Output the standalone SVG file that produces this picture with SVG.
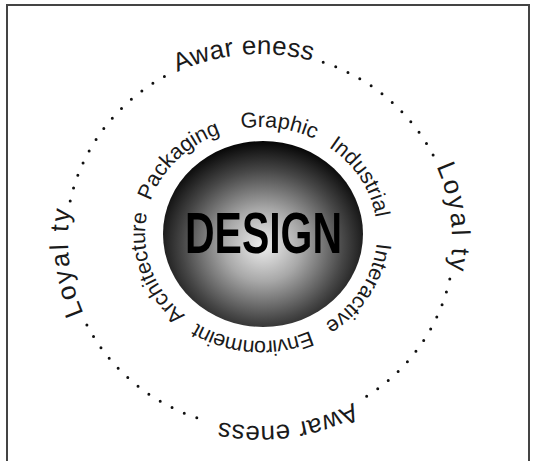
<svg xmlns="http://www.w3.org/2000/svg" width="534" height="461" viewBox="0 0 534 461">
<defs>
  <radialGradient id="sph" cx="0.5" cy="0.56" r="0.56">
    <stop offset="0" stop-color="#efefef"/>
    <stop offset="0.35" stop-color="#a8a8a8"/>
    <stop offset="0.72" stop-color="#474747"/>
    <stop offset="1" stop-color="#050505"/>
  </radialGradient>
  <path id="inner" d="M145,234 A116,107 0 1 1 377,234 A116,107 0 1 1 145,234 A116,107 0 1 1 377,234 A116,107 0 1 1 145,234"/>
  <path id="outer" d="M68,240 A192,186 0 1 1 452,240 A192,186 0 1 1 68,240 A192,186 0 1 1 452,240 A192,186 0 1 1 68,240"/>
</defs>
<style>
  .in { font-family: "Liberation Sans", Arial, sans-serif; font-size: 21.5px; fill: #1a1a1a; text-anchor: middle; }
  .out { font-family: "Liberation Sans", Arial, sans-serif; font-size: 26px; fill: #1a1a1a; text-anchor: middle; }
  .dots { fill: none; stroke: #111; stroke-width: 3; stroke-linecap: round; stroke-dasharray: 0 13.4; }
</style>
<rect width="534" height="461" fill="#fff"/>
<g id="frame" fill="none" stroke="#444" stroke-width="2">
  <path d="M7,470 V5 H529 V470"/>
</g>
<g id="sphere">
  <ellipse cx="263" cy="234" rx="100" ry="93" fill="url(#sph)"/>
  <text x="185" y="253" textLength="157" lengthAdjust="spacingAndGlyphs" font-family="'Liberation Sans Narrow', 'Liberation Sans', Arial, sans-serif" font-weight="bold" font-size="57" fill="#000">DESIGN</text>
</g>
<g id="inner-ring" class="in">
  <text><textPath href="#inner" startOffset="83.7">Packaging</textPath></text>
  <text><textPath href="#inner" startOffset="192.8">Graphic</textPath></text>
  <text><textPath href="#inner" startOffset="290.1">Industrial</textPath></text>
  <text><textPath href="#inner" startOffset="408.9">Interactive</textPath></text>
  <text><textPath href="#inner" startOffset="533.5" textLength="118" lengthAdjust="spacing">Environmeint</textPath></text>
  <text><textPath href="#inner" startOffset="663.9">Architecture</textPath></text>
</g>
<g id="outer-ring" class="out">
  <text><textPath href="#outer" startOffset="280.4" textLength="138" lengthAdjust="spacing">Awar eness</textPath></text>
  <text><textPath href="#outer" startOffset="570.7" textLength="106" lengthAdjust="spacing">Loyal ty</textPath></text>
  <text><textPath href="#outer" startOffset="862.4" textLength="138" lengthAdjust="spacing">Awar eness</textPath></text>
  <text><textPath href="#outer" startOffset="1164.5" textLength="106" lengthAdjust="spacing">Loyal ty</textPath></text>
</g>
<g id="dots" class="dots">
  <path d="M323.2,62.2 A194,188 0 0 1 434.4,157.6"/>
  <path d="M449.8,279.1 A194,188 0 0 1 359,401"/>
  <path d="M196.8,417.8 A194,188 0 0 1 85.6,322.4"/>
  <path d="M70.2,200.9 A194,188 0 0 1 166,75.6"/>
</g>
</svg>
